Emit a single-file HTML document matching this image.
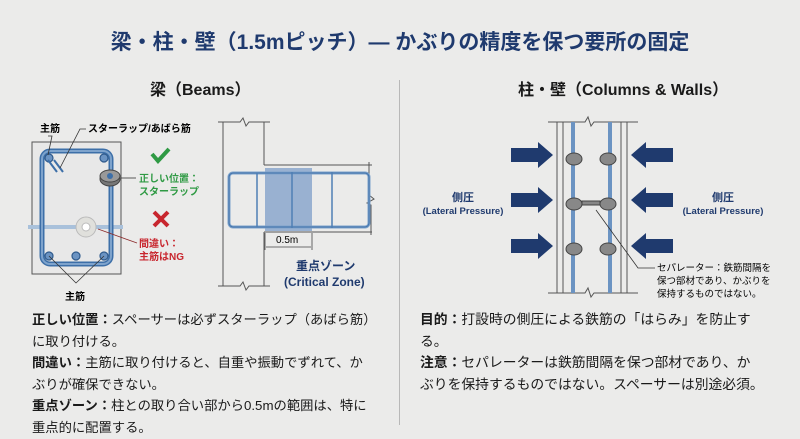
<!DOCTYPE html>
<html><head><meta charset="utf-8"><style>
body{margin:0;width:800px;height:435px;background:#ebebea;font-family:"Liberation Sans","Noto Sans CJK JP",sans-serif;overflow:hidden;position:relative;color:#1a1a1a}
.t{position:absolute;white-space:nowrap}
.p{position:absolute;font-size:13.3px;line-height:21.6px;white-space:nowrap}
b{font-weight:700}
</style></head><body>
<div class="t" style="left:0;width:800px;text-align:center;top:26px;font-size:21px;font-weight:700;color:#1f3a6e">梁・柱・壁（1.5mピッチ）— かぶりの精度を保つ要所の固定</div>
<div class="t" style="left:150px;top:76px;font-size:16px;font-weight:700">梁（Beams）</div>
<div class="t" style="left:518px;top:76px;font-size:16px;font-weight:700">柱・壁（Columns &amp; Walls）</div>
<div style="position:absolute;left:399px;top:80px;width:1px;height:345px;background:#b8b8b8"></div>
<svg width="800" height="435" style="position:absolute;left:0;top:0" font-family="Liberation Sans, Noto Sans CJK JP, sans-serif">
<rect x="32" y="142" width="89" height="132" fill="#e8e8e8" stroke="#555" stroke-width="1"/>
<line x1="28" y1="227" x2="123" y2="227" stroke="#a9c1db" stroke-width="4"/>
<rect x="42" y="151" width="69" height="113" rx="8" fill="none" stroke="#3d6fa8" stroke-width="5"/>
<rect x="42" y="151" width="69" height="113" rx="8" fill="none" stroke="#7ea3cc" stroke-width="2"/>
<g fill="#6b93c2" stroke="#2f5a8c" stroke-width="1.2">
<circle cx="49" cy="158" r="4"/><circle cx="104" cy="158" r="4"/><circle cx="49" cy="256" r="4"/><circle cx="76" cy="256" r="4"/><circle cx="104" cy="256" r="4"/></g>
<line x1="48" y1="160" x2="57" y2="172" stroke="#3d6fa8" stroke-width="2"/><line x1="54" y1="160" x2="63" y2="172" stroke="#3d6fa8" stroke-width="2"/>
<ellipse cx="110" cy="179" rx="10" ry="7" fill="#777" stroke="#444"/><ellipse cx="110" cy="176" rx="10" ry="6" fill="#999" stroke="#444"/><circle cx="110" cy="176" r="3" fill="#3d6fa8"/>
<ellipse cx="86" cy="227" rx="10" ry="10" fill="#e0e0dc" stroke="#bbb"/><circle cx="86" cy="227" r="4" fill="#fff" stroke="#bbb"/>
<text x="40" y="132" font-size="10" font-weight="700">主筋</text>
<polyline points="48,136 52,136 48,155" fill="none" stroke="#333" stroke-width="0.8"/>
<text x="88" y="132" font-size="10" font-weight="700">スターラップ/あばら筋</text>
<polyline points="86,129 80,129 60,168" fill="none" stroke="#333" stroke-width="0.8"/>
<text x="65" y="300" font-size="10" font-weight="700">主筋</text>
<polyline points="49,256 76,283 104,256" fill="none" stroke="#333" stroke-width="0.8"/>
<polyline points="152,154 158,161 169,149" fill="none" stroke="#2f9a44" stroke-width="4"/>
<text x="139" y="182" font-size="10" font-weight="700" fill="#2f9a44">正しい位置：</text>
<text x="139" y="195" font-size="10" font-weight="700" fill="#2f9a44">スターラップ</text>
<line x1="121" y1="178" x2="136" y2="178" stroke="#333" stroke-width="0.8"/>
<path d="M154 212 L168 226 M168 212 L154 226" stroke="#c8262e" stroke-width="4"/>
<text x="139" y="247" font-size="10" font-weight="700" fill="#c8262e">間違い：</text>
<text x="139" y="260" font-size="10" font-weight="700" fill="#c8262e">主筋はNG</text>
<line x1="98" y1="229" x2="137" y2="243" stroke="#8b2a2a" stroke-width="0.8"/>
<path d="M218 122 L240 122 L243 118 L246 126 L249 122 L270 122" fill="none" stroke="#555"/>
<path d="M218 286 L240 286 L243 282 L246 290 L249 286 L270 286" fill="none" stroke="#555"/>
<line x1="223" y1="122" x2="223" y2="286" stroke="#555"/>
<line x1="264" y1="122" x2="264" y2="165" stroke="#555"/><line x1="264" y1="232" x2="264" y2="286" stroke="#555"/>
<line x1="264" y1="165" x2="372" y2="165" stroke="#555"/><line x1="264" y1="232" x2="372" y2="232" stroke="#555"/>
<path d="M369 162 L369 195 L374 199 L367 203 L371 205 L371 235" fill="none" stroke="#555"/>
<rect x="265" y="168" width="47" height="63" fill="#7e9dc8" opacity="0.75"/>
<rect x="229" y="173" width="140" height="54" fill="none" stroke="#7ea3cc" stroke-width="3" rx="4"/>
<rect x="229" y="173" width="140" height="54" fill="none" stroke="#3d6fa8" stroke-width="1" rx="4"/>
<g stroke="#4f7fb5" stroke-width="1.5"><line x1="257" y1="173" x2="257" y2="227"/><line x1="292" y1="172" x2="292" y2="228"/><line x1="332" y1="172" x2="332" y2="228"/></g>
<line x1="265" y1="233" x2="265" y2="250" stroke="#444" stroke-width="0.8"/><line x1="312" y1="233" x2="312" y2="250" stroke="#444" stroke-width="0.8"/>
<line x1="266" y1="247" x2="311" y2="247" stroke="#444" stroke-width="0.8"/>
<text x="276" y="243" font-size="10">0.5m</text>
<text x="296" y="270" font-size="12" font-weight="700" fill="#1f3a6e">重点ゾーン</text>
<text x="284" y="286" font-size="12" font-weight="700" fill="#1f3a6e">(Critical Zone)</text>
<path d="M548 122 L585 122 L588 117 L591 126 L594 122 L638 122" fill="none" stroke="#555"/>
<path d="M548 293 L585 293 L588 288 L591 297 L594 293 L638 293" fill="none" stroke="#555"/>
<g stroke="#555" stroke-width="1"><line x1="557" y1="122" x2="557" y2="293"/><line x1="563" y1="122" x2="563" y2="293"/><line x1="621" y1="122" x2="621" y2="293"/><line x1="627" y1="122" x2="627" y2="293"/></g>
<line x1="573" y1="122" x2="573" y2="293" stroke="#6b93c2" stroke-width="4"/><line x1="610" y1="122" x2="610" y2="293" stroke="#6b93c2" stroke-width="4"/>
<g fill="#888" stroke="#444" stroke-width="1">
<ellipse cx="574" cy="159" rx="8" ry="6"/><ellipse cx="608" cy="159" rx="8" ry="6"/>
<ellipse cx="574" cy="204" rx="8" ry="6"/><ellipse cx="608" cy="204" rx="8" ry="6"/>
<ellipse cx="574" cy="249" rx="8" ry="6"/><ellipse cx="608" cy="249" rx="8" ry="6"/>
<rect x="582" y="201" width="18" height="4"/></g>
<g fill="#1f3a6e">
<polygon points="511,148 538,148 538,142 553,155 538,168 538,162 511,162"/>
<polygon points="511,193 538,193 538,187 553,200 538,213 538,207 511,207"/>
<polygon points="511,239 538,239 538,233 553,246 538,259 538,253 511,253"/>
<polygon points="673,148 646,148 646,142 631,155 646,168 646,162 673,162"/>
<polygon points="673,193 646,193 646,187 631,200 646,213 646,207 673,207"/>
<polygon points="673,239 646,239 646,233 631,246 646,259 646,253 673,253"/></g>
<text x="463" y="201" font-size="11" font-weight="700" fill="#1f3a6e" text-anchor="middle">側圧</text>
<text x="463" y="214" font-size="9.5" font-weight="700" fill="#1f3a6e" text-anchor="middle">(Lateral Pressure)</text>
<text x="723" y="201" font-size="11" font-weight="700" fill="#1f3a6e" text-anchor="middle">側圧</text>
<text x="723" y="214" font-size="9.5" font-weight="700" fill="#1f3a6e" text-anchor="middle">(Lateral Pressure)</text>
<polyline points="596,210 638,268 655,268" fill="none" stroke="#333" stroke-width="0.8"/>
<text x="657" y="271" font-size="9.5">セパレーター：鉄筋間隔を</text>
<text x="657" y="284" font-size="9.5">保つ部材であり、かぶりを</text>
<text x="657" y="297" font-size="9.5">保持するものではない。</text>
</svg>
<div class="p" style="left:32px;top:309px"><b>正しい位置：</b>スペーサーは必ずスターラップ（あばら筋）<br>に取り付ける。<br><b>間違い：</b>主筋に取り付けると、自重や振動でずれて、か<br>ぶりが確保できない。<br><b>重点ゾーン：</b>柱との取り合い部から0.5mの範囲は、特に<br>重点的に配置する。</div>
<div class="p" style="left:420px;top:309px;font-size:13.8px"><b>目的：</b>打設時の側圧による鉄筋の「はらみ」を防止す<br>る。<br><b>注意：</b>セパレーターは鉄筋間隔を保つ部材であり、か<br>ぶりを保持するものではない。スペーサーは別途必須。</div>
</body></html>
